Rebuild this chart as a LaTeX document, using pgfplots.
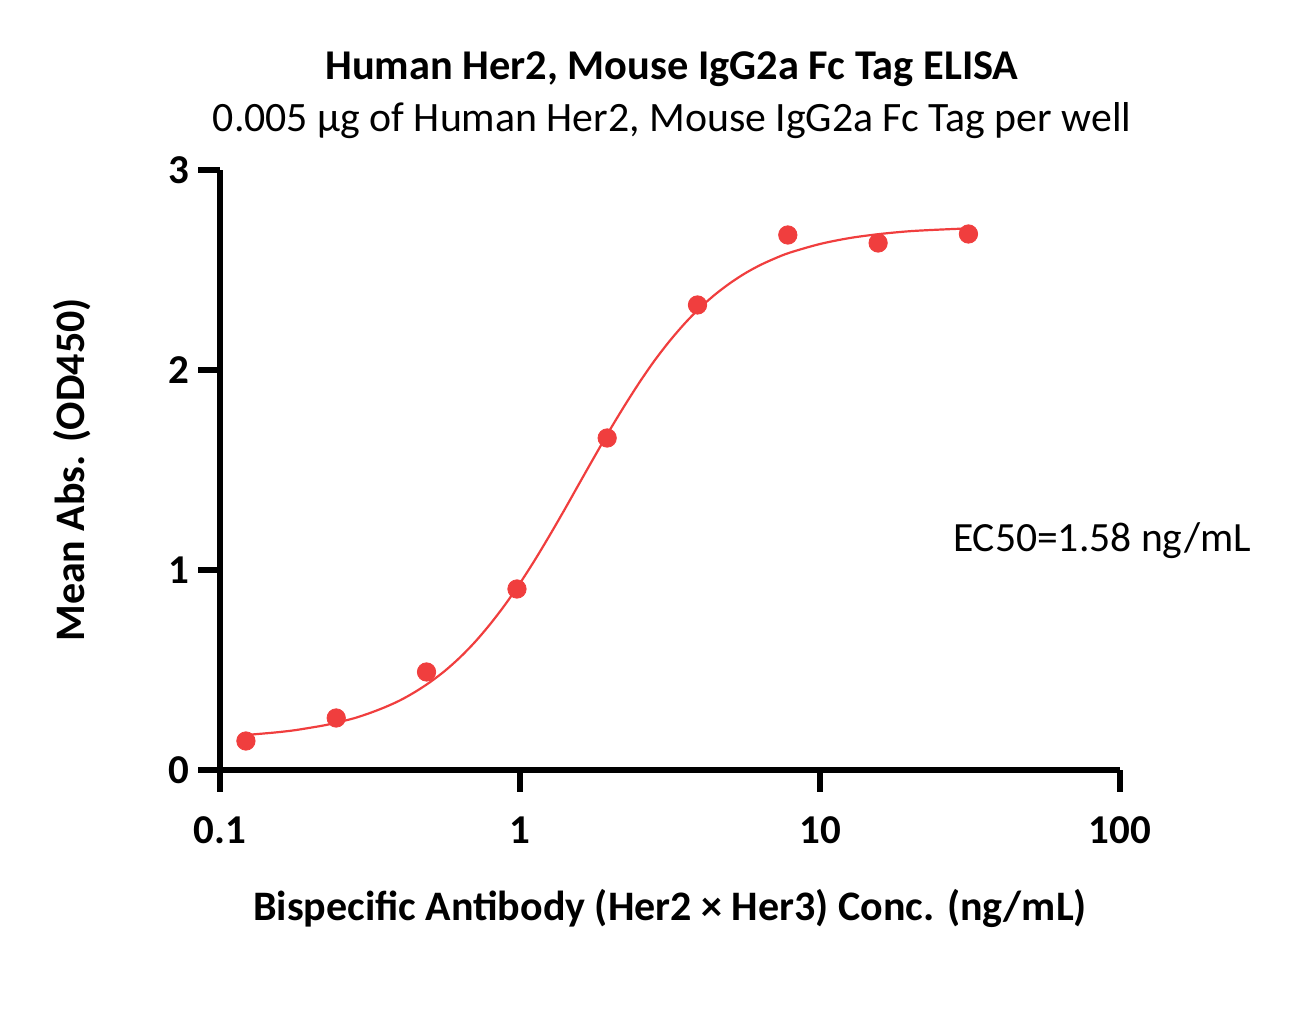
\documentclass[border=0pt]{standalone}
\usepackage{pgfplots}
\pgfplotsset{compat=1.18}
\usepackage{fontspec}
\setmainfont{Carlito}
\definecolor{pt}{RGB}{240,62,62}
\begin{document}
\begin{tikzpicture}
\path[use as bounding box] (-110pt,-128pt) rectangle (536pt,385pt);
\begin{axis}[
  at={(0pt,0pt)}, anchor=south west,
  scale only axis, width=450pt, height=300pt,
  xmode=log, log basis x=10,
  xmin=0.1, xmax=100, ymin=0, ymax=3,
  axis lines=left, axis line style={line width=3pt, -},
  xtick={0.1,1,10,100}, xticklabels={\textbf{0.1},\textbf{1},\textbf{10},\textbf{100}},
  ytick={0,1,2,3}, yticklabels={\textbf{0},\textbf{1},\textbf{2},\textbf{3}},
  minor tick num=0, xminorticks=false,
  tick style={line width=3pt, black},
  tick align=outside, major tick length=11pt,
  ticklabel style={font=\fontsize{20.5}{22}\selectfont},
  xticklabel style={yshift=-9pt},
  yticklabel style={xshift=-1pt},
  clip=false,
]
\addplot[pt, line width=1.1pt, smooth] coordinates {
(0.122,0.175) (0.1413,0.183) (0.1585,0.190) (0.1778,0.199) (0.1995,0.211)
(0.2239,0.224) (0.2512,0.241) (0.2818,0.260) (0.3162,0.285) (0.3548,0.314)
(0.3981,0.348) (0.4467,0.390) (0.5012,0.439) (0.5623,0.496) (0.6310,0.563)
(0.7079,0.640) (0.7943,0.728) (0.8913,0.826) (1,0.934) (1.122,1.051)
(1.259,1.176) (1.413,1.306) (1.585,1.439) (1.778,1.571) (1.995,1.701)
(2.239,1.825) (2.512,1.942) (2.818,2.050) (3.162,2.147) (3.548,2.234)
(3.981,2.311) (4.467,2.377) (5.012,2.434) (5.623,2.483) (6.310,2.524)
(7.079,2.558) (7.943,2.587) (10,2.630) (12.59,2.660) (15.85,2.680)
(19.95,2.694) (25.12,2.702) (31.26,2.708)
};
\addplot[only marks, mark=*, mark size=4.6pt, pt, mark options={draw=pt, fill=pt}] coordinates {
(0.122,0.145) (0.244,0.26) (0.488,0.49) (0.977,0.905) (1.953,1.66)
(3.906,2.325) (7.8125,2.675) (15.625,2.635) (31.25,2.68)
};
\end{axis}
\node[font=\bfseries\fontsize{21.2}{23}\selectfont, anchor=base] at (226pt,345pt) {Human Her2, Mouse IgG2a Fc Tag ELISA};
\node[font=\fontsize{20.9}{23}\selectfont, anchor=base] at (226pt,319pt) {0.005 µg of Human Her2, Mouse IgG2a Fc Tag per well};
\node[font=\bfseries\fontsize{21}{23}\selectfont, rotate=90] at (-74pt,150pt) {Mean Abs. (OD450)};
\node[font=\bfseries\fontsize{21}{23}\selectfont] at (225pt,-69pt) {Bispecific Antibody (Her2 × Her3) Conc. (ng/mL)};
\node[font=\fontsize{20.8}{23}\selectfont, anchor=west] at (363pt,114.5pt) {EC50=1.58 ng/mL};
\end{tikzpicture}
\end{document}
